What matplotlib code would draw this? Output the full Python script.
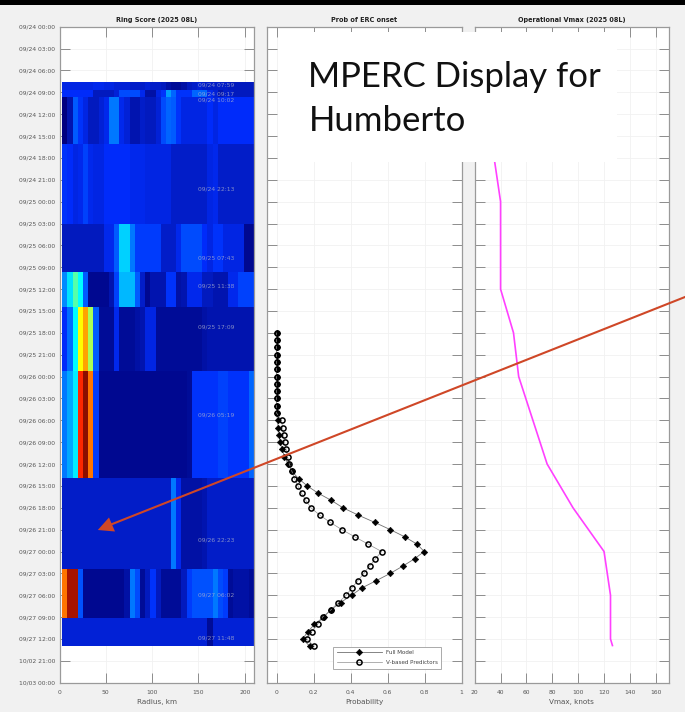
import numpy as np
import matplotlib
matplotlib.use("Agg")
import matplotlib.pyplot as plt
from matplotlib.patches import Rectangle, Polygon
from matplotlib.colors import LinearSegmentedColormap

W, H = 685, 712

# ---- data -----
time_tick_labels = ["09/24 00:00","09/24 03:00","09/24 06:00","09/24 09:00","09/24 12:00","09/24 15:00",
    "09/24 18:00","09/24 21:00","09/25 00:00","09/25 03:00","09/25 06:00","09/25 09:00","09/25 12:00",
    "09/25 15:00","09/25 18:00","09/25 21:00","09/26 00:00","09/26 03:00","09/26 06:00","09/26 09:00",
    "09/26 12:00","09/26 15:00","09/26 18:00","09/26 21:00","09/27 00:00","09/27 03:00","09/27 06:00",
    "09/27 09:00","09/27 12:00","10/02 21:00","10/03 00:00"]
time_tick_hours = [3 * i for i in range(31)]

ring_row_edges = [7.63, 8.68, 9.64, 16.09, 27.0, 33.7, 38.45, 47.27, 61.95, 74.35, 81.07, 84.9]
radius_edges = np.linspace(3, 210, 38)

ring_a = [.09,.09,.09,.09,.09,.09,.10,.10,.09,.09,.08,.08,.08,.07,.07,.07,.08,.07,.07,.06,.04,.03,.03,.04,.06,.07,.08,.07,.07,.07,.07,.07,.06,.06,.06,.06,.06]
ring_b = [.11,.11,.11,.11,.11,.11,.06,.06,.06,.06,.08,.15,.15,.15,.15,.10,.04,.04,.09,.12,.24,.18,.12,.12,.12,.18,.18,.18,.10,.08,.05,.07,.07,.06,.06,.06,.06]
ring_c = [.00,.05,.17,.12,.09,.06,.06,.08,.10,.20,.20,.10,.08,.05,.05,.07,.06,.06,.08,.15,.18,.17,.12,.09,.09,.09,.09,.09,.11,.09,.11,.11,.11,.11,.11,.11,.11]
ring_d = [.12,.11,.09,.10,.14,.10,.09,.09,.11,.11,.11,.11,.11,.10,.10,.10,.09,.09,.09,.09,.09,.07,.07,.07,.07,.07,.07,.07,.09,.10,.07,.07,.07,.07,.07,.07,.07]
ring_e = [.06,.06,.06,.06,.06,.06,.06,.06,.10,.10,.17,.30,.30,.20,.13,.13,.13,.13,.13,.07,.07,.07,.10,.15,.15,.15,.15,.11,.09,.12,.12,.09,.09,.09,.09,.02,.02]
ring_f = [.22,.32,.45,.35,.17,.02,.02,.02,.02,.05,.14,.27,.27,.27,.17,.07,.02,.05,.05,.05,.12,.12,.04,.05,.10,.10,.10,.06,.06,.05,.05,.05,.10,.10,.14,.14,.14]
ring_g = [.11,.19,.35,.65,.75,.55,.17,.03,.03,.03,.10,.03,.03,.03,.04,.05,.09,.09,.03,.03,.03,.03,.03,.03,.03,.03,.03,.04,.05,.05,.05,.05,.05,.05,.05,.05,.05]
ring_h = [.20,.25,.33,.88,1.0,.80,.13,.02,.02,.02,.02,.02,.02,.02,.02,.02,.02,.02,.02,.02,.02,.02,.02,.02,.03,.12,.12,.12,.12,.12,.14,.14,.12,.12,.12,.12,.18]
ring_i = [.07,.07,.07,.07,.07,.07,.07,.07,.07,.07,.07,.07,.07,.07,.07,.07,.07,.07,.07,.07,.07,.20,.10,.04,.04,.04,.04,.05,.07,.07,.07,.07,.07,.07,.07,.07,.07]
ring_j = [.80,.97,.97,.16,.02,.02,.02,.02,.02,.02,.02,.02,.04,.20,.15,.03,.06,.12,.06,.03,.03,.03,.03,.06,.13,.16,.16,.16,.16,.20,.15,.13,.03,.04,.04,.04,.03]
ring_k = [.08,.08,.08,.08,.08,.08,.08,.08,.08,.08,.08,.08,.08,.08,.08,.08,.08,.08,.08,.08,.08,.08,.08,.08,.08,.08,.08,.08,.03,.08,.08,.08,.08,.08,.08,.08,.08]

ring_label_text = ["09/24 07:59","09/24 09:17","09/24 10:02","09/24 22:13","09/25 07:43","09/25 11:38",
                   "09/25 17:09","09/26 05:19","09/26 22:23","09/27 06:02","09/27 11:48"]
ring_label_hours = [7.98, 9.28, 10.03, 22.22, 31.72, 35.63, 41.15, 53.32, 70.38, 78.03, 83.8]

prob_hours = list(range(42, 86))
prob_full = [0,0,0,0,0,0,0,0,0,0,0,0,.0055,.009,.0145,.018,.031,.042,.063,.083,.119,.166,.225,.297,.359,
             .441,.53,.615,.694,.76,.798,.746,.683,.615,.539,.461,.406,.346,.294,.254,.205,.169,.141,.18]
prob_v = [0,0,0,0,0,0,0,0,0,0,0,0,.027,.0325,.038,.043,.052,.06,.069,.083,.097,.116,.135,.159,.186,
          .233,.29,.353,.424,.496,.568,.535,.503,.472,.44,.407,.377,.334,.294,.249,.222,.189,.162,.204]

vmax_hours = [12, 18, 24, 36, 42, 48, 60, 66, 72, 78, 84, 84.9]
vmax_kt = [30, 35, 40, 40, 50, 54, 76, 96, 120, 125, 125, 126.5]

panel_titles = ["Ring Score (2025 08L)", "Prob of ERC onset", "Operational Vmax (2025 08L)"]
panel_xlabels = ["Radius, km", "Probability", "Vmax, knots"]
overlay_lines = ["MPERC Display for", "Humberto"]

# jet-like map as it appears in the picture (blues slightly greener than pure jet)
ring_cmap = LinearSegmentedColormap.from_list("ringjet", [
    (0.00, (0.00, 0.00, 0.50)), (0.03, (0.00, 0.05, 0.60)), (0.07, (0.01, 0.12, 0.80)),
    (0.11, (0.00, 0.17, 0.98)), (0.17, (0.00, 0.36, 1.00)), (0.25, (0.00, 0.65, 1.00)),
    (0.35, (0.00, 1.00, 1.00)), (0.50, (0.50, 1.00, 0.50)), (0.65, (1.00, 1.00, 0.00)),
    (0.75, (1.00, 0.65, 0.00)), (0.88, (1.00, 0.15, 0.00)), (1.00, (0.55, 0.05, 0.00))])

# ---- figure -----
fig = plt.figure(figsize=(W/100, H/100), dpi=100, facecolor="#f1f1f1")
plt.rcParams["font.family"] = "DejaVu Sans"

def axes_px(x0, x1, y0, y1):
    return fig.add_axes([x0/W, 1-y1/H, (x1-x0)/W, (y1-y0)/H])

top, bot = 26.7, 682.7
ax1 = axes_px(59.5, 254.0, top, bot)
ax2 = axes_px(267.3, 461.5, top, bot)
ax3 = axes_px(474.7, 668.7, top, bot)

TS = 4.35
GREY = "#8c8c8c"
for ax, title, xl in zip((ax1, ax2, ax3), panel_titles, panel_xlabels):
    ax.set_facecolor("white")
    ax.set_ylim(90, 0)
    ax.set_yticks(time_tick_hours)
    ax.set_yticklabels(time_tick_labels if ax is ax1 else [])
    ax.set_axisbelow(True)
    ax.grid(True, color="#f1f1f1", lw=0.6)
    ax.tick_params(axis="both", direction="in", length=7.4, width=0.7, color=GREY,
                   top=True, right=True, labelsize=TS, labelcolor="#555555", pad=3)
    ax.tick_params(axis="x", pad=5)
    for s in ax.spines.values():
        s.set_color("#9a9a9a")
        s.set_linewidth(0.9)
    ax.set_title(title, fontsize=4.7, fontweight="bold", color="#222222", pad=3.5)
    ax.set_xlabel(xl, fontsize=5.2, color="#555555", labelpad=3)

# ring score panel
ring = np.array([ring_a, ring_b, ring_c, ring_d, ring_e, ring_f, ring_g, ring_h, ring_i, ring_j, ring_k])
ax1.pcolormesh(radius_edges, ring_row_edges, ring, cmap=ring_cmap, vmin=0, vmax=1, shading="flat")
ax1.set_xlim(0, 210)
ax1.set_xticks([0, 50, 100, 150, 200])
for t, h in zip(ring_label_text, ring_label_hours):
    ax1.text(150, h, t, fontsize=TS, color="#b0b4cc", alpha=0.75, va="center", ha="left")

# probability panel
ax2.set_xlim(-0.05, 1)
ax2.set_xticks([0, .2, .4, .6, .8, 1])
ax2.set_xticklabels(["0", "0.2", "0.4", "0.6", "0.8", "1"])
l1, = ax2.plot(prob_full, prob_hours, color="#707070", lw=0.6, marker="D", ms=3.3,
               mfc="black", mec="black", mew=0.4, label="Full Model", zorder=3)
l2, = ax2.plot(prob_v, prob_hours, color="#909090", lw=0.5, marker="o", ms=3.7,
               mfc="none", mec="black", mew=1.1, label="V-based Predictors", zorder=3)
leg = ax2.legend(handles=[l1, l2], fontsize=4.1, loc="upper left",
                 bbox_to_anchor=((333-267.3)/194.2, 1-(646.7-top)/(bot-top)),
                 borderaxespad=0, fancybox=False, framealpha=1, edgecolor="#aaaaaa",
                 labelcolor="#444444", handlelength=7.9, handletextpad=0.7, labelspacing=0.8,
                 borderpad=0.65)
leg.get_frame().set_linewidth(0.7)
leg.set_zorder(4)

# vmax panel
ax3.set_xlim(20, 170)
ax3.set_xticks(range(20, 161, 20))
ax3.plot(vmax_kt, vmax_hours, color="#ff40ff", lw=1.2, zorder=3)

# overlay (slide annotation)
fig.add_artist(Rectangle((0, 1-4.6/H), 1, 4.6/H, transform=fig.transFigure, color="black", lw=0, zorder=8))
fig.add_artist(Rectangle((278/W, 1-161.7/H), (616.7-278)/W, 130/H, transform=fig.transFigure,
                         color="white", lw=0, zorder=5))
fig.text(308.5/W, 1-87/H, overlay_lines[0], fontsize=25, family="Lato", color="#111111", zorder=7)
fig.text(308.5/W, 1-131/H, overlay_lines[1], fontsize=25, family="Lato", color="#111111", zorder=7)

RED = "#cf4727"
line = plt.Line2D([685/W, 106/W], [1-297/H, 1-526.5/H], transform=fig.transFigure, color=RED, lw=1.5, zorder=6)
fig.add_artist(line)
fig.add_artist(Polygon([(97.8/W, 1-530/H), (109/W, 1-517.5/H), (115/W, 1-531.5/H)], closed=True,
                       transform=fig.transFigure, color=RED, lw=0, zorder=6))

fig.savefig("out.png", dpi=100, facecolor=fig.get_facecolor())
